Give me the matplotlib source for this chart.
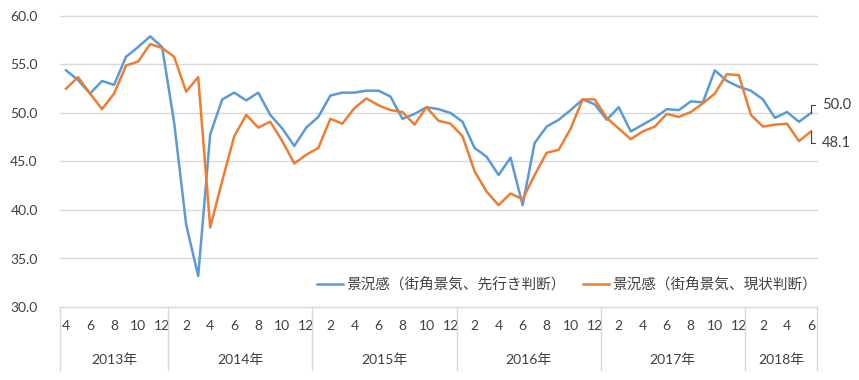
import matplotlib
matplotlib.use('Agg')
import matplotlib.pyplot as plt
import matplotlib.transforms as mtransforms
import numpy as np

plt.rcParams['font.family'] = ['Lato', 'Noto Sans CJK JP']

# months of each category (2013-04 .. 2018-06)
months = list(range(4, 13)) + list(range(1, 13)) * 4 + list(range(1, 7))
year_names = ['2013年', '2014年', '2015年', '2016年', '2017年', '2018年']
year_lengths = [9, 12, 12, 12, 12, 6]

outlook = [54.4, 53.4, 52.0, 53.3, 52.9, 55.8, 56.8, 57.9, 56.8,
           49.0, 38.5, 33.2, 47.8, 51.4, 52.1, 51.3, 52.1, 49.8, 48.4, 46.6, 48.5,
           49.6, 51.8, 52.1, 52.1, 52.3, 52.3, 51.7, 49.4, 49.9, 50.6, 50.4, 50.0,
           49.1, 46.4, 45.5, 43.6, 45.4, 40.5, 46.9, 48.6, 49.3, 50.3, 51.4, 50.9,
           49.3, 50.6, 48.1, 48.8, 49.5, 50.4, 50.3, 51.2, 51.1, 54.4, 53.3, 52.7,
           52.3, 51.4, 49.5, 50.1, 49.1, 50.0]
current = [52.5, 53.7, 52.0, 50.4, 52.0, 54.9, 55.3, 57.1, 56.7,
           55.8, 52.2, 53.7, 38.2, 43.0, 47.6, 49.8, 48.5, 49.1, 47.1, 44.8, 45.7,
           46.4, 49.4, 48.9, 50.5, 51.5, 50.8, 50.3, 50.1, 48.8, 50.6, 49.2, 48.9,
           47.6, 44.0, 41.9, 40.5, 41.7, 41.1, 43.6, 45.9, 46.2, 48.4, 51.4, 51.4,
           49.5, 48.4, 47.3, 48.1, 48.6, 49.9, 49.6, 50.1, 51.0, 52.0, 54.0, 53.9,
           49.8, 48.6, 48.8, 48.9, 47.1, 48.1]

label_outlook = '景況感（街角景気、先行き判断）'
label_current = '景況感（街角景気、現状判断）'

grid_col = '#d9d9d9'
x = np.arange(len(months))

fig = plt.figure(figsize=(8.59, 3.80), dpi=100)
ax = fig.add_axes([60/859, 1-307/380, 757/859, 291/380])

ax.plot(x, outlook, color='#5b9bd5', lw=1.8, label=label_outlook, zorder=3)
ax.plot(x, current, color='#ed7d31', lw=1.8, label=label_current, zorder=3)

ax.set_xlim(-0.5, len(months) - 0.5)
ax.set_ylim(30, 60)
ax.set_yticks(np.arange(30, 61, 5))
ax.set_yticklabels([f'{v:.1f}' for v in np.arange(30, 61, 5)], fontsize=10, color='#404040')
ax.yaxis.grid(True, color=grid_col, lw=1)
for gl in ax.get_ygridlines():
    gl.set_clip_on(False)
ax.tick_params(axis='y', length=0, pad=16)

for s in ['top', 'left', 'right']:
    ax.spines[s].set_visible(False)
ax.spines['bottom'].set_color(grid_col)

even = x[::2]
ax.set_xticks(even)
ax.set_xticklabels([str(months[i]) for i in even], fontsize=10, color='#404040')
ax.tick_params(axis='x', length=0, pad=9)

# year separators and year labels
trans = mtransforms.blended_transform_factory(ax.transData, ax.transAxes)
edges = np.concatenate([[0], np.cumsum(year_lengths)]) - 0.5
for e in edges:
    ax.plot([e, e], [0, -0.217], transform=trans, color=grid_col, lw=1, clip_on=False)
for name, a, b in zip(year_names, edges[:-1], edges[1:]):
    ax.text((a + b) / 2, -0.18, name, transform=trans, ha='center', va='center',
            fontsize=10, color='#404040')

# end labels with leader lines
last = len(months) - 1
for val, dy in [(outlook[-1], 6), (current[-1], -8)]:
    ax.annotate(f'{val:.1f}', xy=(last, val), xytext=(8, dy), textcoords='offset points',
                ha='left', va='center', fontsize=10.5, color='#404040',
                arrowprops=dict(arrowstyle='-', color='#404040', lw=0.8,
                                connectionstyle='angle,angleA=0,angleB=90,rad=0',
                                relpos=(0, 0.5), shrinkA=3, shrinkB=0))

ax.legend(loc='center', bbox_to_anchor=(567/859, 1-285/380), bbox_transform=fig.transFigure,
          ncol=2, frameon=False, fontsize=10.5, handlelength=1.8, handletextpad=0.2,
          columnspacing=1.2, prop={'family': ['Noto Sans CJK JP'], 'size': 10.5},
          labelcolor='#404040')

fig.savefig('out.png', dpi=100)
